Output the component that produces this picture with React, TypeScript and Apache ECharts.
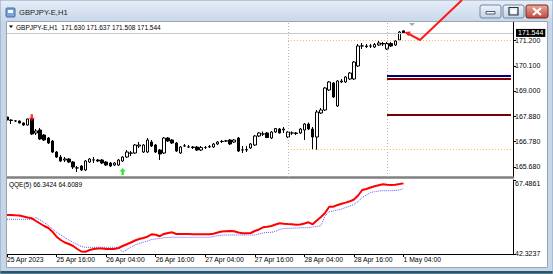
import React, { useEffect, useRef } from "react";
import * as echarts from "echarts";

// ---------- time categories (H1 bars, weekend skipped, plus chart-shift slots) ----------
const DAY_RANGES: [string, number, number][] = [
  ["25 Apr", 4, 23],
  ["26 Apr", 0, 23],
  ["27 Apr", 0, 23],
  ["28 Apr", 0, 23],
  ["1 May", 0, 23],
  ["2 May", 0, 6],
];
const CATEGORIES: string[] = [];
DAY_RANGES.forEach(([d, h0, h1]) => {
  for (let h = h0; h <= h1; h++) CATEGORIES.push(`${d} ${String(h).padStart(2, "0")}:00`);
});

const TICK_CATEGORIES = [
  "25 Apr 04:00", "25 Apr 16:00", "26 Apr 04:00", "26 Apr 16:00", "27 Apr 04:00",
  "27 Apr 16:00", "28 Apr 04:00", "28 Apr 16:00", "1 May 04:00",
];
const TICK_LABELS = [
  "25 Apr 2023", "25 Apr 16:00", "26 Apr 04:00", "26 Apr 16:00", "27 Apr 04:00",
  "27 Apr 16:00", "28 Apr 04:00", "28 Apr 16:00", "1 May 04:00",
];
const DAY_SEPARATORS = ["28 Apr 00:00", "1 May 00:00"];

// ---------- GBPJPY-E H1 OHLC ----------
const OPEN = [
  167.861, 167.730, 167.686, 167.686, 167.599, 167.511, 167.774, 167.161, 167.292, 167.073,
  166.942, 166.811, 166.329, 166.111, 165.979, 166.023, 165.892, 165.629, 165.717, 165.542,
  165.892, 165.979, 165.979, 165.979, 165.892, 165.848, 165.760, 165.760, 165.936, 166.111,
  166.286, 166.286, 166.592, 166.329, 166.329, 166.767, 166.636, 166.417, 166.286, 166.942,
  166.855, 166.723, 166.286, 166.592, 166.548, 166.548, 166.548, 166.417, 166.526, 166.548,
  166.548, 166.680, 166.789, 166.811, 166.855, 166.767, 166.942, 166.417, 166.417, 166.505,
  166.636, 167.030, 167.117, 167.161, 166.942, 167.205, 167.336, 167.292, 166.986, 167.161,
  167.161, 167.161, 167.292, 167.555, 167.336, 166.986, 168.036, 168.168, 169.043, 169.349,
  168.343, 169.393, 169.393, 169.524, 169.524, 170.093, 170.968, 170.968, 170.968, 170.924,
  171.012, 171.077, 170.837, 171.077, 171.012, 171.231, 171.630,
];
const CLOSE = [
  167.730, 167.708, 167.690, 167.599, 167.511, 167.774, 167.117, 167.249, 166.898, 166.855,
  166.723, 166.329, 166.111, 165.936, 166.023, 165.892, 165.673, 165.635, 165.542, 165.936,
  166.023, 165.985, 165.936, 165.848, 165.760, 165.717, 165.848, 165.979, 166.111, 166.329,
  166.280, 166.636, 166.636, 166.636, 166.855, 166.592, 166.329, 166.242, 166.942, 166.811,
  166.723, 166.373, 166.548, 166.598, 166.552, 166.526, 166.417, 166.526, 166.530, 166.570,
  166.680, 166.767, 166.795, 166.815, 166.680, 166.855, 166.373, 166.420, 166.439, 166.680,
  167.030, 167.161, 167.120, 166.964, 167.205, 167.358, 167.161, 167.336, 167.205, 167.165,
  167.139, 167.336, 167.555, 167.336, 166.986, 168.080, 168.168, 169.130, 169.393, 168.736,
  169.437, 169.437, 169.612, 169.787, 170.268, 170.968, 170.972, 170.946, 170.964, 171.034,
  171.099, 171.056, 171.077, 170.968, 171.187, 171.581, 171.544,
];
const LOW = [
  167.642, 167.555, 167.642, 167.577, 167.467, 167.489, 167.073, 167.073, 166.855, 166.811,
  166.680, 166.286, 166.067, 165.892, 165.892, 165.848, 165.585, 165.454, 165.498, 165.498,
  165.848, 165.848, 165.892, 165.804, 165.717, 165.673, 165.717, 165.717, 165.892, 166.067,
  166.154, 166.242, 166.505, 166.286, 166.286, 166.548, 166.286, 165.979, 166.242, 166.767,
  166.680, 166.329, 166.242, 166.548, 166.505, 166.461, 166.373, 166.373, 166.461, 166.505,
  166.505, 166.636, 166.723, 166.767, 166.636, 166.723, 166.329, 166.286, 166.329, 166.461,
  166.592, 166.986, 167.030, 166.942, 166.898, 167.161, 167.139, 167.161, 166.942, 167.073,
  167.073, 167.117, 166.855, 167.292, 166.430, 166.430, 167.992, 168.124, 168.999, 168.693,
  168.299, 169.349, 169.349, 169.480, 169.480, 170.049, 170.837, 170.881, 170.881, 170.881,
  170.968, 170.968, 170.793, 170.924, 170.968, 171.187, 171.508,
];
const HIGH = [
  167.905, 167.760, 167.730, 167.708, 167.620, 167.796, 167.817, 167.336, 167.380, 167.117,
  166.986, 166.855, 166.373, 166.198, 166.111, 166.067, 165.936, 165.717, 165.760, 165.979,
  166.067, 166.111, 166.023, 166.023, 165.936, 165.892, 165.892, 166.023, 166.154, 166.417,
  166.373, 166.680, 166.767, 166.680, 166.942, 166.855, 166.680, 166.461, 166.986, 166.986,
  166.898, 166.767, 166.592, 166.680, 166.636, 166.592, 166.592, 166.592, 166.592, 166.636,
  166.723, 166.811, 166.855, 166.855, 166.898, 166.898, 166.986, 166.592, 166.592, 166.723,
  167.073, 167.205, 167.227, 167.205, 167.249, 167.380, 167.380, 167.424, 167.249, 167.227,
  167.205, 167.380, 167.599, 167.620, 167.424, 168.168, 168.255, 169.174, 169.437, 169.393,
  169.480, 169.524, 169.655, 169.830, 170.312, 171.056, 171.099, 171.056, 171.056, 171.099,
  171.200, 171.143, 171.143, 171.143, 171.231, 171.624, 171.637,
];

// ---------- QQE(5) ----------
const QQE_RSI = [
  55.59, 55.59, 55.48, 55.38, 55.08, 54.74, 54.46, 53.55, 52.70, 51.85,
  51.17, 49.91, 48.21, 47.09, 46.24, 45.73, 45.05, 44.03, 43.18, 43.07,
  43.69, 44.03, 44.20, 44.20, 44.03, 44.03, 44.03, 44.37, 45.05, 45.63,
  46.24, 46.92, 47.43, 47.77, 48.21, 49.02, 48.85, 48.38, 49.13, 49.47,
  49.70, 49.13, 49.13, 49.13, 49.13, 49.06, 49.02, 49.02, 49.02, 49.02,
  49.23, 49.64, 49.98, 50.08, 50.15, 50.08, 49.64, 49.36, 49.36, 49.47,
  50.15, 50.66, 51.40, 51.57, 51.85, 52.36, 52.76, 52.63, 52.53, 52.46,
  52.25, 52.36, 52.70, 53.10, 52.42, 53.72, 54.91, 56.27, 58.41, 58.41,
  58.99, 59.43, 59.80, 60.24, 60.86, 62.22, 64.09, 64.43, 64.94, 65.34,
  65.72, 66.02, 65.85, 65.79, 65.90, 66.10, 66.3424,
];
const QQE_TRAIL = [
  54.12, 54.12, 54.12, 54.12, 54.12, 54.12, 54.12, 54.73, 53.89, 53.04,
  52.02, 50.83, 49.70, 48.79, 47.94, 47.09, 46.24, 45.56, 44.88, 44.60,
  44.60, 44.60, 44.60, 44.60, 44.60, 44.60, 44.60, 44.60, 42.90, 43.85,
  44.71, 45.39, 45.90, 46.30, 46.75, 47.26, 47.43, 47.60, 47.87, 47.94,
  48.00, 48.00, 48.00, 48.00, 48.00, 48.00, 48.00, 48.00, 48.00, 48.00,
  48.27, 48.55, 48.68, 48.79, 48.79, 48.79, 48.79, 48.79, 48.79, 48.79,
  48.79, 49.13, 49.47, 49.64, 49.70, 49.98, 50.66, 50.99, 51.06, 51.06,
  51.17, 51.27, 51.27, 51.27, 51.51, 51.68, 51.95, 55.25, 56.71, 56.95,
  57.29, 57.63, 58.14, 58.65, 59.16, 60.18, 61.54, 62.39, 63.24, 63.51,
  63.75, 63.85, 63.85, 63.85, 63.92, 64.09, 64.6089,
];

// ---------- levels / axis ticks ----------
const PRICE_TICKS = [165.68, 166.78, 167.88, 169.0, 170.1, 171.2];
const QQE_TICKS = [42.3237, 67.4861];
const PRICE_MIN = 165.236;
const PRICE_MAX = 172.018;
const BID = 171.544;
const PIVOT_LEVELS = [169.668, 169.537, 167.979];
const PIVOT_COLORS = ["#000080", "#8b0000", "#7a0000"];
const SELL_SIGNALS: [string, number][] = [["25 Apr 10:00", 167.83]];
const BUY_SIGNALS: [string, number][] = [["26 Apr 08:00", 165.476]];

const FONT = '"Liberation Sans", Arial, sans-serif';

export default function App() {
  const ref = useRef<HTMLDivElement>(null);

  useEffect(() => {
    if (!ref.current) return;
    const chart = echarts.init(ref.current, undefined, { renderer: "svg" });

    const idx28 = CATEGORIES.indexOf("28 Apr 00:00");
    const idx1May = CATEGORIES.indexOf("1 May 00:00");
    const dayHigh = Math.max(...HIGH.slice(idx28, idx1May));
    const dayLow = Math.min(...LOW.slice(idx28, idx1May));
    const lastCat = CATEGORIES[CATEGORIES.length - 1];

    const candles = OPEN.map((o, i) => [o, CLOSE[i], LOW[i], HIGH[i]]);

    const GRID_LEFT = 4.93;
    const GRID_W = 508.07;

    const hline = (from: string, to: string, v: number, style: any) => [
      { coord: [from, v], lineStyle: style },
      { coord: [to, v] },
    ];

    const grad = (c0: string, c1: string) => ({
      type: "linear", x: 0, y: 0, x2: 0, y2: 1,
      colorStops: [{ offset: 0, color: c0 }, { offset: 1, color: c1 }],
    });

    const tickFn = (_i: number, v: string) => TICK_CATEGORIES.includes(v);

    const option: any = {
      animation: false,
      backgroundColor: "#ffffff",
      grid: [
        { left: GRID_LEFT, top: 22, width: GRID_W, height: 155 },
        { left: GRID_LEFT, top: 180, width: GRID_W, height: 74 },
      ],
      xAxis: [
        {
          type: "category", gridIndex: 0, data: CATEGORIES, boundaryGap: true,
          axisLine: { show: true, onZero: false, lineStyle: { color: "#808080", width: 2.5 } },
          axisTick: { show: false }, axisLabel: { show: false }, splitLine: { show: false },
        },
        {
          type: "category", gridIndex: 1, data: CATEGORIES, boundaryGap: true,
          axisLine: { show: true, onZero: false, lineStyle: { color: "#000", width: 1 } },
          axisTick: { show: true, alignWithLabel: true, interval: tickFn, length: 3, lineStyle: { color: "#000" } },
          axisLabel: {
            interval: tickFn,
            formatter: (v: string) => {
              const k = TICK_CATEGORIES.indexOf(v);
              return k >= 0 ? TICK_LABELS[k] : "";
            },
            align: "left", margin: 2, fontSize: 6.8, color: "#000", fontFamily: FONT,
          },
          splitLine: { show: false },
        },
      ],
      yAxis: [
        {
          type: "value", gridIndex: 0, position: "right", min: PRICE_MIN, max: PRICE_MAX,
          axisLine: { show: true, lineStyle: { color: "#000", width: 1 } },
          axisTick: { show: true, length: 3, customValues: PRICE_TICKS, lineStyle: { color: "#000" } },
          axisLabel: {
            customValues: PRICE_TICKS, formatter: (v: number) => v.toFixed(3),
            fontSize: 7, color: "#000", margin: 2, fontFamily: FONT,
          },
          splitLine: { show: false },
        },
        {
          type: "value", gridIndex: 1, position: "right", min: QQE_TICKS[0], max: QQE_TICKS[1],
          axisLine: { show: true, lineStyle: { color: "#000", width: 1 } },
          axisTick: { show: true, length: 3, customValues: QQE_TICKS, lineStyle: { color: "#000" } },
          axisLabel: {
            customValues: QQE_TICKS,
            formatter: (v: number) => (v > 60 ? `{t|${v.toFixed(4)}}` : `{b|${v.toFixed(4)}}`),
            margin: 2, fontSize: 7, color: "#000", fontFamily: FONT,
            rich: {
              t: { fontSize: 7, color: "#000", fontFamily: FONT, padding: [7, 0, 0, 0] },
              b: { fontSize: 7, color: "#000", fontFamily: FONT, padding: [0, 0, 1, 0] },
            },
          },
          splitLine: { show: false },
        },
      ],
      series: [
        {
          type: "candlestick", xAxisIndex: 0, yAxisIndex: 0, data: candles, barWidth: 3,
          itemStyle: { color: "#ffffff", color0: "#000000", borderColor: "#000000", borderColor0: "#000000", borderWidth: 1 },
          markLine: {
            silent: true, symbol: ["none", "none"], animation: false,
            label: { show: false },
            data: [
              ...DAY_SEPARATORS.map((c) => ({ xAxis: c, lineStyle: { color: "#b4b4b4", type: [1, 2], width: 1 } })),
              hline(CATEGORIES[idx28], lastCat, dayHigh, { color: "#ffb347", type: [1, 2], width: 1 }),
              hline(CATEGORIES[idx28], lastCat, dayLow, { color: "#ffb347", type: [1, 2], width: 1 }),
              ...PIVOT_LEVELS.map((v, k) => hline(CATEGORIES[idx1May], lastCat, v, { color: PIVOT_COLORS[k], type: "solid", width: 2 })),
              {
                yAxis: BID,
                lineStyle: { color: "#c8c8c8", type: "solid", width: 1 },
                label: {
                  show: true, position: "end", distance: 3, formatter: BID.toFixed(3),
                  backgroundColor: "#000", color: "#fff", padding: [1, 2, 0, 2],
                  fontSize: 7, fontFamily: FONT,
                },
              },
            ],
          },
          z: 3,
        },
        {
          type: "scatter", xAxisIndex: 0, yAxisIndex: 0, data: SELL_SIGNALS,
          symbol: "path://M3,0L7,0L7,5L10,5L5,10L0,5L3,5Z", symbolSize: [6, 7],
          itemStyle: { color: "#ff0000" }, z: 5, silent: true,
        },
        {
          type: "scatter", xAxisIndex: 0, yAxisIndex: 0, data: BUY_SIGNALS,
          symbol: "path://M5,0L10,5L7,5L7,10L3,10L3,5L0,5Z", symbolSize: [6, 7],
          itemStyle: { color: "#00e000" }, z: 5, silent: true,
        },
        {
          type: "line", xAxisIndex: 1, yAxisIndex: 1, data: QQE_TRAIL, symbol: "none",
          lineStyle: { color: "#5a5aff", width: 1, type: [1, 1] }, z: 3, silent: true,
        },
        {
          type: "line", xAxisIndex: 1, yAxisIndex: 1, data: QQE_RSI, symbol: "none",
          lineStyle: { color: "#ff0000", width: 2 }, z: 4, silent: true,
        },
      ],
      graphic: [
        // chart headers
        { type: "polygon", z: 50, shape: { points: [[9, 25.5], [13, 25.5], [11, 28]] }, style: { fill: "#000" } },
        {
          type: "text", z: 50, x: 16, y: 27,
          style: { text: "GBPJPY-E,H1  171.630 171.637 171.508 171.544", fontSize: 6.5, fontFamily: FONT, fill: "#000", verticalAlign: "middle" },
        },
        {
          type: "text", z: 50, x: 9, y: 184,
          style: { text: "QQE(5) 66.3424 64.6089", fontSize: 6.5, fontFamily: FONT, fill: "#000", verticalAlign: "middle" },
        },
        // chart-shift marker
        { type: "polygon", z: 50, shape: { points: [[409, 23], [415, 23], [412, 26]] }, style: { fill: "#a8a8a8" } },
        // window frame
        { type: "rect", z: 100, shape: { x: 0, y: 0, width: 553, height: 21 }, style: { fill: grad("#e6eef8", "#c9d8ea") } },
        { type: "rect", z: 100, shape: { x: 0, y: 21, width: 6, height: 253 }, style: { fill: "#c6d6e8" } },
        { type: "rect", z: 100, shape: { x: 547.5, y: 21, width: 6, height: 253 }, style: { fill: "#c6d6e8" } },
        { type: "rect", z: 100, shape: { x: 0, y: 267.5, width: 553, height: 4 }, style: { fill: "#c6d6e8" } },
        { type: "rect", z: 100, shape: { x: 0, y: 271, width: 553, height: 3 }, style: { fill: "#27586a" } },
        { type: "rect", z: 100, shape: { x: 0, y: 0, width: 553, height: 274 }, style: { fill: "none", stroke: "#8aa0b8", lineWidth: 1 } },
        { type: "rect", z: 101, shape: { x: 6.5, y: 21.5, width: 541, height: 246 }, style: { fill: "none", stroke: "#9aa6b4", lineWidth: 1 } },
        // title icon & text
        { type: "rect", z: 102, shape: { x: 6, y: 8, width: 9, height: 9, r: 1 }, style: { fill: "#7aa6d8", stroke: "#3f6fa8", lineWidth: 1 } },
        { type: "rect", z: 103, shape: { x: 8, y: 10, width: 5, height: 3 }, style: { fill: "#ffffff" } },
        {
          type: "text", z: 102, x: 19, y: 12,
          style: { text: "GBPJPY-E,H1", fontSize: 7.6, fontFamily: FONT, fill: "#1a1a1a", verticalAlign: "middle" },
        },
        // window buttons
        { type: "rect", z: 102, shape: { x: 480, y: 5, width: 21, height: 13, r: 2 }, style: { fill: grad("#eef3fa", "#c2d2e6"), stroke: "#6f86a3", lineWidth: 1 } },
        { type: "rect", z: 103, shape: { x: 486, y: 11.5, width: 9, height: 2.5 }, style: { fill: "#ffffff", stroke: "#2c3440", lineWidth: 0.8 } },
        { type: "rect", z: 102, shape: { x: 503, y: 5, width: 21, height: 13, r: 2 }, style: { fill: grad("#eef3fa", "#c2d2e6"), stroke: "#6f86a3", lineWidth: 1 } },
        { type: "rect", z: 103, shape: { x: 509, y: 7.5, width: 9, height: 7.5 }, style: { fill: "none", stroke: "#2c3440", lineWidth: 1.2 } },
        { type: "rect", z: 103, shape: { x: 510.5, y: 9.5, width: 6, height: 4 }, style: { fill: "#ffffff" } },
        { type: "rect", z: 102, shape: { x: 526, y: 5, width: 22, height: 13, r: 2 }, style: { fill: grad("#e9a89b", "#c4493c"), stroke: "#6e2a22", lineWidth: 1 } },
        { type: "line", z: 103, shape: { x1: 533, y1: 8, x2: 541, y2: 15 }, style: { stroke: "#ffffff", lineWidth: 2.2 } },
        { type: "line", z: 103, shape: { x1: 541, y1: 8, x2: 533, y2: 15 }, style: { stroke: "#ffffff", lineWidth: 2.2 } },
        // hand-drawn red arrow annotation
        {
          type: "polyline", z: 120,
          shape: { points: [[462, 0], [420, 40], [408, 33.5]] },
          style: { stroke: "#ff1a1a", lineWidth: 2, fill: "none" },
        },
        {
          type: "polygon", z: 120,
          shape: { points: [[404.5, 32], [410.8, 31.6], [408.4, 36.2]] },
          style: { fill: "#ff1a1a" },
        },
      ],
    };

    chart.setOption(option);
    return () => chart.dispose();
  }, []);

  return (
    <div
      ref={ref}
      style={{ position: "fixed", left: 0, top: 0, width: 553, height: 274, background: "#fff" }}
    />
  );
}
